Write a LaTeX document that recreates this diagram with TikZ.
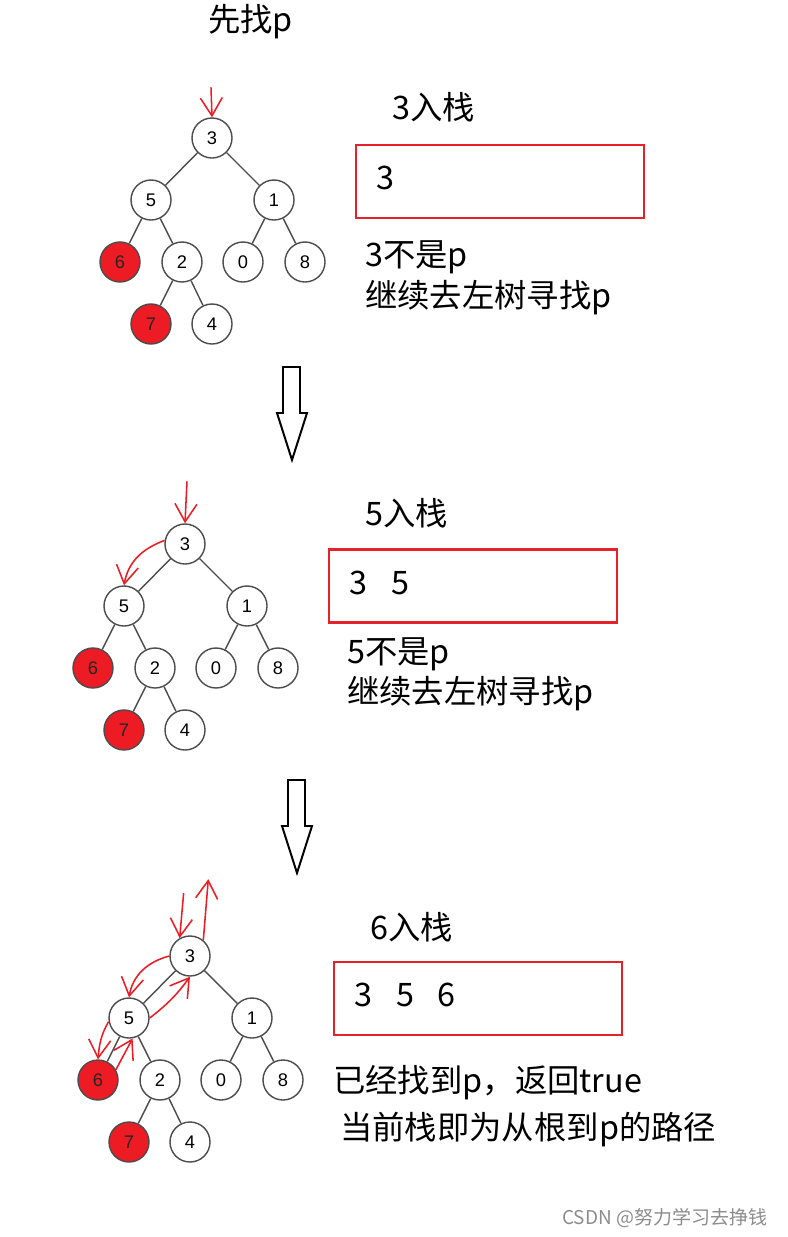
\documentclass[tikz,border=0pt]{standalone}
\usepackage{fontspec}
\setsansfont{Liberation Sans}
\newfontfamily\cjk{Noto Sans CJK SC}
\usetikzlibrary{calc, arrows.meta}
\definecolor{markred}{HTML}{ED1C24}
\definecolor{boxred}{HTML}{E6212A}
\tikzset{
    tnode/.style={circle, draw=black!70, line width=1pt, minimum size=1cm, inner sep=0pt, fill=white, font=\sffamily\fontsize{13}{14}\selectfont},
    found/.style={tnode, fill=markred, text=black!85},
    tedge/.style={draw=black!70, line width=1pt},
    stackbox/.style={draw=boxred, line width=1.5pt, minimum width=7.2cm, minimum height=1.825cm, inner sep=0pt},
    txt/.style={font=\cjk\fontsize{23}{27}\selectfont, inner sep=0pt, anchor=west},
    hand/.style={draw=markred, line width=1.1pt, -{Straight Barb[length=4.5mm, width=5.5mm]}},
    bigarrow/.style={draw=black, line width=1.4pt, fill=white, line join=miter},
}
% one tree, #1 = name prefix, root at (#2, #3)
\newcommand\bintree[3]{
    \begin{scope}[shift={(#2, #3)}]
        \node[tnode] (#1n3) at (0, 0){3};
        \node[tnode] (#1n5) at (-61, 62){5};
        \node[tnode] (#1n1) at (62, 62){1};
        \node[found] (#1n6) at (-92, 124){6};
        \node[tnode] (#1n2) at (-30, 124){2};
        \node[tnode] (#1n0) at (31, 124){0};
        \node[tnode] (#1n8) at (93, 124){8};
        \node[found] (#1n7) at (-61, 186){7};
        \node[tnode] (#1n4) at (0, 186){4};
        \draw[tedge] (#1n3) -- (#1n5);
        \draw[tedge] (#1n3) -- (#1n1);
        \draw[tedge] (#1n5) -- (#1n6);
        \draw[tedge] (#1n5) -- (#1n2);
        \draw[tedge] (#1n1) -- (#1n0);
        \draw[tedge] (#1n1) -- (#1n8);
        \draw[tedge] (#1n2) -- (#1n7);
        \draw[tedge] (#1n2) -- (#1n4);
    \end{scope}
}

\begin{document}
\begin{tikzpicture}[x=0.025cm, y=-0.025cm]
    \useasboundingbox (0, 0) rectangle (788, 1237);

    \node[txt] (title) at (208, 22){先找p};

    % step 1
    \bintree{a}{212}{138}
    \draw[hand] ($(an3.north)+(-1, -30)$) -- (an3.north);
    \node[txt] (headA) at (392, 107){3入栈};
    \node[stackbox] (stackA) at (500, 181.5){};
    \node[txt] (sA1) at (376, 178){3};
    \node[txt] (noteA1) at (365, 257){3不是p};
    \node[txt] (noteA2) at (365, 298){继续去左树寻找p};

    \draw[bigarrow] (283, 367) -- (300, 367) -- (300, 413) -- (307, 413) -- (292, 460) -- (277, 413) -- (283, 413) -- cycle;

    % step 2
    \bintree{b}{185}{544}
    \draw[hand] ($(bn3.north)+(2, -42)$) -- (bn3.north);
    \draw[hand] (bn3.170) to[out=200, in=80] (bn5.north);
    \node[txt] (headB) at (365, 513){5入栈};
    \node[stackbox] (stackB) at (473, 586){};
    \node[txt] (sB1) at (349, 583){3};
    \node[txt] (sB2) at (391, 583){5};
    \node[txt] (noteB1) at (347, 654){5不是p};
    \node[txt] (noteB2) at (347, 694){继续去左树寻找p};

    \draw[bigarrow] (288, 780) -- (305, 780) -- (305, 826) -- (312, 826) -- (297, 873) -- (282, 826) -- (288, 826) -- cycle;

    % step 3
    \bintree{c}{190}{956}
    \coordinate (cup) at ($(cn3.50)+(5, -61)$);
    \draw[hand] ($(cn3.120)+(4, -45)$) -- (cn3.120);
    \draw[hand] (cn3.50) -- (cup);
    \draw[hand] (cn3.west) to[out=195, in=80] (cn5.north);
    \draw[hand] (cn5.east) to[bend right=8] (cn3.south);
    \draw[hand] (cn5.190) to[out=240, in=85] (cn6.north);
    \draw[hand] (cn6.30) -- (cn5.-80);
    \node[txt] (headC) at (370, 927){6入栈};
    \node[stackbox] (stackC) at (478, 998.5){};
    \node[txt] (sC1) at (354, 995){3};
    \node[txt] (sC2) at (396, 995){5};
    \node[txt] (sC3) at (437, 995){6};
    \node[txt] (noteC1) at (333, 1083){已经找到p，返回true};
    \node[txt] (noteC2) at (340, 1130){当前栈即为从根到p的路径};

    \node[txt, font=\cjk\fontsize{13.5}{15}\selectfont, text=black!45] (mark) at (562, 1218){CSDN @努力学习去挣钱};
\end{tikzpicture}
\end{document}
